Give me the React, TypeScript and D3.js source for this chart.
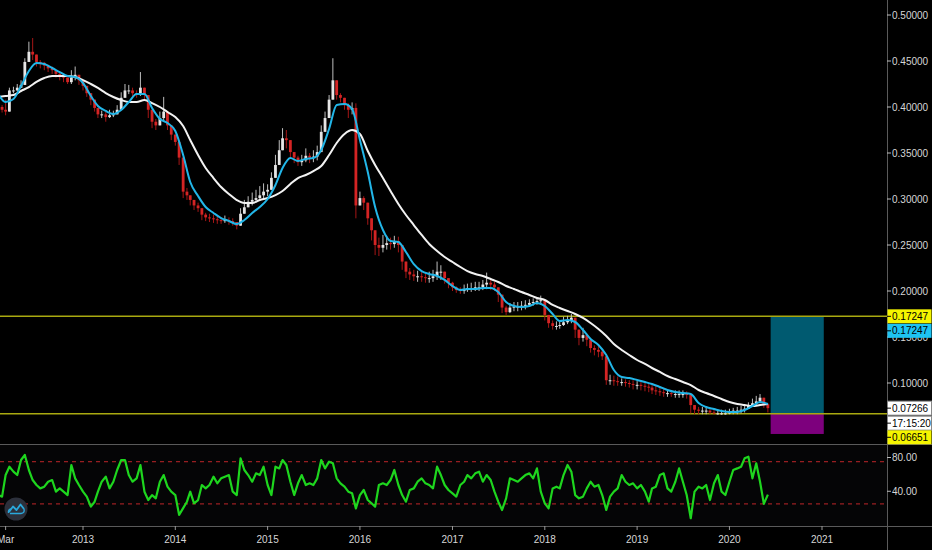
import React, { useEffect } from 'react';
import * as d3 from 'd3';

const W = 932;
const H = 550;

// semi-monthly candles (1st and 16th), Feb 2012 .. Jun 2020
const candleCloses = [
  0.400, 0.397, 0.395, 0.418, 0.418, 0.421, 0.424, 0.449, 0.460, 0.457,
  0.449, 0.448, 0.445, 0.442, 0.440, 0.436, 0.433, 0.432, 0.427, 0.432,
  0.435, 0.429, 0.423, 0.415, 0.408, 0.399, 0.392, 0.392, 0.389, 0.391,
  0.392, 0.397, 0.410, 0.418, 0.418, 0.415, 0.413, 0.421, 0.413, 0.397,
  0.384, 0.380, 0.388, 0.395, 0.380, 0.370, 0.362, 0.345, 0.308, 0.304,
  0.299, 0.293, 0.290, 0.283, 0.280, 0.279, 0.278, 0.277, 0.276, 0.277,
  0.276, 0.275, 0.271, 0.284, 0.291, 0.297, 0.299, 0.301, 0.304, 0.308,
  0.310, 0.323, 0.337, 0.353, 0.366, 0.364, 0.351, 0.345, 0.340, 0.342,
  0.347, 0.345, 0.346, 0.351, 0.373, 0.388, 0.408, 0.429, 0.413, 0.410,
  0.402, 0.397, 0.399, 0.293, 0.301, 0.296, 0.279, 0.266, 0.250, 0.247,
  0.250, 0.252, 0.251, 0.254, 0.250, 0.232, 0.221, 0.218, 0.216, 0.216,
  0.215, 0.214, 0.214, 0.216, 0.221, 0.221, 0.214, 0.209, 0.204, 0.201,
  0.200, 0.201, 0.203, 0.203, 0.204, 0.204, 0.207, 0.209, 0.207, 0.204,
  0.196, 0.182, 0.177, 0.182, 0.183, 0.183, 0.184, 0.185, 0.187, 0.188,
  0.189, 0.190, 0.174, 0.165, 0.162, 0.162, 0.163, 0.166, 0.168, 0.171,
  0.158, 0.149, 0.152, 0.147, 0.138, 0.136, 0.134, 0.129, 0.103, 0.103,
  0.102, 0.101, 0.101, 0.100, 0.099, 0.098, 0.098, 0.097, 0.096, 0.095,
  0.092, 0.091, 0.090, 0.089, 0.089, 0.088, 0.088, 0.088, 0.088, 0.087,
  0.076, 0.071, 0.070, 0.070, 0.070, 0.068, 0.067, 0.067, 0.067, 0.067,
  0.068, 0.070, 0.070, 0.071, 0.072, 0.075, 0.078, 0.080, 0.084, 0.077,
  0.07266,
];

const candleHighs = [
  0.408, 0.402, 0.408, 0.421, 0.422, 0.425, 0.429, 0.453, 0.471, 0.475,
  0.457, 0.451, 0.449, 0.446, 0.444, 0.440, 0.437, 0.435, 0.432, 0.440,
  0.444, 0.434, 0.427, 0.421, 0.413, 0.404, 0.397, 0.396, 0.395, 0.397,
  0.396, 0.402, 0.416, 0.425, 0.424, 0.421, 0.418, 0.438, 0.418, 0.403,
  0.390, 0.387, 0.395, 0.411, 0.386, 0.375, 0.368, 0.353, 0.337, 0.312,
  0.304, 0.299, 0.296, 0.288, 0.285, 0.284, 0.283, 0.282, 0.280, 0.282,
  0.280, 0.279, 0.275, 0.290, 0.299, 0.303, 0.307, 0.310, 0.314, 0.317,
  0.316, 0.329, 0.348, 0.364, 0.377, 0.375, 0.359, 0.351, 0.347, 0.348,
  0.355, 0.350, 0.353, 0.358, 0.380, 0.395, 0.413, 0.453, 0.424, 0.415,
  0.410, 0.404, 0.405, 0.404, 0.308, 0.303, 0.288, 0.277, 0.261, 0.258,
  0.261, 0.260, 0.258, 0.260, 0.259, 0.245, 0.228, 0.225, 0.223, 0.222,
  0.221, 0.220, 0.221, 0.223, 0.232, 0.228, 0.221, 0.214, 0.210, 0.205,
  0.204, 0.207, 0.208, 0.209, 0.210, 0.210, 0.212, 0.220, 0.212, 0.210,
  0.203, 0.190, 0.184, 0.187, 0.188, 0.188, 0.189, 0.190, 0.191, 0.192,
  0.193, 0.195, 0.185, 0.173, 0.168, 0.167, 0.168, 0.172, 0.173, 0.175,
  0.171, 0.158, 0.160, 0.154, 0.145, 0.141, 0.140, 0.137, 0.125, 0.109,
  0.108, 0.107, 0.105, 0.104, 0.103, 0.103, 0.102, 0.101, 0.101, 0.100,
  0.098, 0.097, 0.096, 0.095, 0.093, 0.092, 0.092, 0.092, 0.092, 0.091,
  0.088, 0.075, 0.074, 0.074, 0.074, 0.073, 0.072, 0.071, 0.071, 0.071,
  0.072, 0.073, 0.074, 0.075, 0.076, 0.079, 0.083, 0.086, 0.088, 0.082,
  0.078,
];

const candleLows = [
  0.395, 0.394, 0.391, 0.413, 0.415, 0.417, 0.421, 0.440, 0.453, 0.451,
  0.444, 0.442, 0.440, 0.438, 0.436, 0.432, 0.429, 0.427, 0.425, 0.425,
  0.429, 0.424, 0.418, 0.411, 0.402, 0.395, 0.388, 0.388, 0.384, 0.388,
  0.389, 0.392, 0.405, 0.414, 0.414, 0.411, 0.410, 0.412, 0.408, 0.388,
  0.377, 0.375, 0.384, 0.384, 0.375, 0.364, 0.358, 0.337, 0.301, 0.299,
  0.293, 0.288, 0.286, 0.277, 0.276, 0.275, 0.274, 0.273, 0.273, 0.274,
  0.272, 0.271, 0.267, 0.275, 0.286, 0.291, 0.293, 0.296, 0.299, 0.301,
  0.303, 0.316, 0.329, 0.345, 0.359, 0.355, 0.345, 0.339, 0.336, 0.336,
  0.340, 0.339, 0.340, 0.342, 0.364, 0.380, 0.395, 0.413, 0.408, 0.405,
  0.397, 0.388, 0.392, 0.279, 0.293, 0.288, 0.272, 0.255, 0.239, 0.238,
  0.242, 0.245, 0.245, 0.247, 0.242, 0.223, 0.214, 0.212, 0.211, 0.210,
  0.210, 0.209, 0.209, 0.210, 0.212, 0.212, 0.208, 0.203, 0.200, 0.198,
  0.197, 0.197, 0.199, 0.199, 0.200, 0.200, 0.201, 0.202, 0.201, 0.200,
  0.188, 0.176, 0.174, 0.176, 0.178, 0.178, 0.179, 0.180, 0.183, 0.184,
  0.185, 0.185, 0.168, 0.160, 0.158, 0.158, 0.159, 0.162, 0.164, 0.165,
  0.149, 0.141, 0.145, 0.140, 0.133, 0.130, 0.128, 0.125, 0.098, 0.098,
  0.097, 0.097, 0.097, 0.096, 0.095, 0.093, 0.093, 0.092, 0.091, 0.090,
  0.088, 0.087, 0.086, 0.085, 0.085, 0.085, 0.084, 0.084, 0.084, 0.083,
  0.067, 0.066, 0.066, 0.066, 0.066, 0.066, 0.066, 0.0655, 0.0655, 0.0655,
  0.066, 0.066, 0.066, 0.067, 0.068, 0.072, 0.074, 0.076, 0.078, 0.073,
  0.068,
];

// monthly moving averages (1st of month), Feb 2012 .. Jun 2020
const blueMA = [
  0.4141, 0.4054, 0.4087, 0.4228, 0.4391, 0.4478, 0.4467, 0.4424, 0.4380, 0.4337,
  0.4326, 0.4261, 0.4120, 0.4011, 0.3957, 0.3924, 0.3967, 0.4054, 0.4141, 0.4141,
  0.3989, 0.3870, 0.3826, 0.3739, 0.3478, 0.3185, 0.3033, 0.2913, 0.2848, 0.2793,
  0.2761, 0.2728, 0.2772, 0.2848, 0.2913, 0.3000, 0.3152, 0.3337, 0.3446, 0.3413,
  0.3435, 0.3446, 0.3533, 0.3761, 0.4022, 0.4033, 0.3978, 0.3641, 0.3293, 0.2913,
  0.2663, 0.2543, 0.2533, 0.2424, 0.2293, 0.2217, 0.2185, 0.2163, 0.2120, 0.2054,
  0.2011, 0.2022, 0.2022, 0.2033, 0.2033, 0.1989, 0.1880, 0.1837, 0.1826, 0.1837,
  0.1870, 0.1837, 0.1750, 0.1674, 0.1685, 0.1663, 0.1576, 0.1478, 0.1413, 0.1304,
  0.1141, 0.1065, 0.1054, 0.1033, 0.1011, 0.0989, 0.0957, 0.0924, 0.0902, 0.0891,
  0.0880, 0.0783, 0.0739, 0.0717, 0.0696, 0.0685, 0.0685, 0.0707, 0.0750, 0.0793,
  0.0772,
];

const whiteMA = [
  0.4109, 0.4120, 0.4130, 0.4174, 0.4217, 0.4272, 0.4315, 0.4337, 0.4337, 0.4337,
  0.4326, 0.4293, 0.4250, 0.4207, 0.4152, 0.4109, 0.4076, 0.4054, 0.4054, 0.4076,
  0.4043, 0.4000, 0.3946, 0.3891, 0.3793, 0.3641, 0.3478, 0.3337, 0.3228, 0.3130,
  0.3054, 0.2989, 0.2957, 0.2957, 0.2989, 0.3011, 0.3043, 0.3087, 0.3163, 0.3228,
  0.3261, 0.3304, 0.3359, 0.3478, 0.3609, 0.3707, 0.3750, 0.3707, 0.3522, 0.3370,
  0.3228, 0.3087, 0.2946, 0.2826, 0.2717, 0.2609, 0.2511, 0.2435, 0.2370, 0.2315,
  0.2261, 0.2217, 0.2185, 0.2163, 0.2130, 0.2098, 0.2054, 0.2022, 0.1989, 0.1957,
  0.1924, 0.1902, 0.1848, 0.1815, 0.1783, 0.1750, 0.1707, 0.1652, 0.1587, 0.1511,
  0.1424, 0.1359, 0.1304, 0.1250, 0.1207, 0.1163, 0.1120, 0.1076, 0.1043, 0.1011,
  0.0978, 0.0924, 0.0891, 0.0859, 0.0826, 0.0793, 0.0772, 0.0761, 0.0750, 0.0761,
  0.0772,
];

// RSI, semi-monthly, same dates as candles
const rsiValues = [
  35.5, 33.6, 59.2, 69.1, 63.2, 59.2, 77.0, 83.0, 65.2, 53.3,
  47.4, 43.4, 45.4, 51.3, 53.3, 39.5, 43.4, 39.5, 35.5, 71.1,
  55.3, 47.4, 39.5, 33.6, 21.7, 27.6, 39.5, 51.3, 57.3, 43.4,
  51.3, 65.2, 77.0, 77.0, 59.2, 51.3, 55.3, 71.1, 39.5, 29.6,
  35.5, 31.6, 51.3, 59.2, 45.4, 39.5, 35.5, 12.0, 20.0, 27.6,
  39.5, 25.7, 29.6, 47.4, 43.4, 47.4, 57.3, 49.4, 55.3, 57.3,
  59.2, 39.5, 35.5, 79.0, 65.2, 59.2, 51.3, 61.2, 59.2, 69.1,
  47.4, 35.5, 69.1, 67.1, 77.0, 71.1, 51.3, 35.5, 49.4, 59.2,
  47.4, 49.4, 47.4, 55.3, 77.0, 67.1, 75.1, 73.1, 55.3, 49.4,
  45.4, 39.5, 37.5, 19.7, 35.5, 41.5, 29.6, 25.7, 21.7, 47.4,
  49.4, 47.4, 53.3, 65.2, 47.4, 35.5, 27.6, 41.5, 43.4, 51.3,
  55.3, 49.4, 47.4, 43.4, 69.1, 59.2, 47.4, 41.5, 37.5, 33.6,
  47.4, 51.3, 59.2, 55.3, 61.2, 63.2, 51.3, 59.2, 53.3, 39.5,
  27.6, 17.8, 31.6, 55.3, 53.3, 51.3, 55.3, 59.2, 61.2, 55.3,
  67.1, 39.5, 25.7, 19.7, 43.4, 45.4, 43.4, 59.2, 71.1, 63.2,
  35.5, 31.6, 33.6, 43.4, 51.3, 45.4, 47.4, 35.5, 17.8, 33.6,
  39.5, 43.4, 59.2, 51.3, 47.4, 49.4, 43.4, 47.4, 39.5, 27.6,
  43.4, 45.4, 59.2, 61.2, 43.4, 39.5, 51.3, 67.1, 51.3, 35.5,
  8.0, 39.5, 45.4, 43.4, 47.4, 29.6, 49.4, 59.2, 39.5, 35.5,
  51.3, 65.2, 67.1, 69.1, 79.0, 81.0, 55.3, 73.1, 51.3, 25.0,
  36.0,
];

const priceTicks = [0.5, 0.45, 0.4, 0.35, 0.3, 0.25, 0.2, 0.15, 0.1];
const rsiTicks = [80, 40];
const rsiBands = [75, 25];
const yearTicks = [2013, 2014, 2015, 2016, 2017, 2018, 2019, 2020, 2021];
const firstMonthLabel = { label: 'Mar', date: new Date(2012, 2, 1) };

const targetPrice = 0.17247;
const entryPrice = 0.06651;
const stopPrice = 0.0446;
const lastPrice = 0.07266;
const countdownText = '17:15:20';
const positionStart = new Date(2020, 5, 12);
const positionEnd = new Date(2021, 0, 8);

const candleDates = candleCloses.map((_, k) => new Date(2012, 1 + Math.floor(k / 2), k % 2 ? 16 : 1));
const maDates = blueMA.map((_, j) => new Date(2012, 1 + j, 1));

const PLOT_R = 887;
const MAIN_B = 444;
const RSI_B = 526;
const FONT = '"Liberation Sans", Arial, sans-serif';
const FS = 10;

export default function App() {
  useEffect(() => {
    document.body.style.margin = '0';
    document.body.style.background = '#000';
  }, []);

  const x = d3.scaleTime().domain([new Date(2013, 0, 1), new Date(2021, 0, 1)]).range([83, 822]);
  const y = d3.scaleLinear().domain([0, 0.5]).range([475, 15]);
  const yr = d3.scaleLinear().domain([0, 96]).range([525, 444]);

  const candles = candleCloses.map((c, i) => {
    const o = i === 0 ? candleHighs[0] : candleCloses[i - 1];
    const h = Math.max(candleHighs[i], o, c);
    const l = Math.min(candleLows[i], o, c);
    return { d: candleDates[i], o, h, l, c };
  });

  const lineMA = d3.line<number>().x((_, j) => x(maDates[j])).y((v) => y(v)).curve(d3.curveMonotoneX);
  const lineRSI = d3.line<number>().x((_, i) => x(candleDates[i])).y((v) => yr(v));

  const labelBox = (cy: number, text: string, bg: string, fg: string, border?: string) => (
    <g key={text + cy}>
      <rect x={PLOT_R + 0.5} y={cy - 7} width={W - PLOT_R - 1} height={14} fill={bg} stroke={border || 'none'} strokeWidth={border ? 1 : 0} />
      <line x1={PLOT_R} x2={PLOT_R + 4} y1={cy} y2={cy} stroke={fg} strokeWidth={1} />
      <text x={892} y={cy} dominantBaseline="central" fill={fg} fontSize={FS} fontFamily={FONT}>{text}</text>
    </g>
  );

  const yTarget = y(targetPrice);
  const yEntry = y(entryPrice);
  const yLast = y(lastPrice);

  return (
    <svg width={W} height={H} style={{ position: 'absolute', left: 0, top: 0, background: '#000' }}>
      <defs>
        <clipPath id="mainClip"><rect x={0} y={0} width={PLOT_R} height={MAIN_B} /></clipPath>
        <clipPath id="rsiClip"><rect x={0} y={MAIN_B} width={PLOT_R} height={RSI_B - MAIN_B} /></clipPath>
      </defs>
      <rect x={0} y={0} width={W} height={H} fill="#000" />
      <rect x={0} y={MAIN_B} width={PLOT_R} height={RSI_B - MAIN_B} fill="#050506" />

      <g clipPath="url(#mainClip)">
        {/* position tool */}
        <rect x={x(positionStart)} y={y(targetPrice)} width={x(positionEnd) - x(positionStart)} height={y(entryPrice) - y(targetPrice)} fill="#005a70" />
        <rect x={x(positionStart)} y={y(entryPrice)} width={x(positionEnd) - x(positionStart)} height={y(stopPrice) - y(entryPrice)} fill="#7d007d" />
        {/* horizontal levels */}
        <line x1={0} x2={PLOT_R} y1={yTarget} y2={yTarget} stroke="#a9a910" strokeWidth={1.5} />
        <line x1={0} x2={PLOT_R} y1={yEntry} y2={yEntry} stroke="#a9a910" strokeWidth={1.5} />
        {/* candles */}
        {candles.map((k, i) => {
          const cx = x(k.d);
          const up = k.c >= k.o;
          const col = up ? '#e6e6e6' : '#d42424';
          const top = y(Math.max(k.o, k.c));
          const bot = y(Math.min(k.o, k.c));
          return (
            <g key={i}>
              <line x1={cx} x2={cx} y1={y(k.h)} y2={y(k.l)} stroke={up ? '#bdbdbd' : '#a51616'} strokeWidth={1} />
              <rect x={cx - 1.4} y={top} width={2.8} height={Math.max(1, bot - top)} fill={col} />
            </g>
          );
        })}
        <path d={lineMA(whiteMA) || ''} fill="none" stroke="#f2f2f2" strokeWidth={2} />
        <path d={lineMA(blueMA) || ''} fill="none" stroke="#22b6e8" strokeWidth={2} />
      </g>

      {/* RSI pane */}
      <g clipPath="url(#rsiClip)">
        {rsiBands.map((b) => (
          <line key={b} x1={0} x2={PLOT_R} y1={yr(b)} y2={yr(b)} stroke="#c0262a" strokeWidth={1} strokeDasharray="4 4" />
        ))}
        <path d={lineRSI(rsiValues) || ''} fill="none" stroke="#1ed61e" strokeWidth={2.2} strokeLinejoin="round" />
      </g>

      {/* logo */}
      <g>
        <circle cx={16} cy={509} r={11.5} fill="#2c303b" />
        <polyline points="9,512 13,506.5 16.5,510 20.5,504.5 24,509" fill="none" stroke="#2aa8dc" strokeWidth={1.8} strokeLinejoin="round" />
        <path d="M8.5,513 Q8,509.5 11,509 M24,509 Q25,513 21,513.5 L10,513.5" fill="none" stroke="#2aa8dc" strokeWidth={1.4} />
      </g>

      {/* pane separators and axes */}
      <line x1={0} x2={W} y1={MAIN_B + 0.5} y2={MAIN_B + 0.5} stroke="#5a5a5a" strokeWidth={1} />
      <line x1={0} x2={W} y1={RSI_B + 0.5} y2={RSI_B + 0.5} stroke="#5a5a5a" strokeWidth={1} />
      <line x1={PLOT_R + 0.5} x2={PLOT_R + 0.5} y1={0} y2={H} stroke="#5a5a5a" strokeWidth={1} />

      {/* price axis labels */}
      {priceTicks.map((p) => (
        <g key={p}>
          <line x1={PLOT_R} x2={PLOT_R + 4} y1={y(p)} y2={y(p)} stroke="#bbb" />
          <text x={892} y={y(p)} dominantBaseline="central" fill="#d6d6d6" fontSize={FS} fontFamily={FONT}>{p.toFixed(5)}</text>
        </g>
      ))}
      {/* rsi axis labels */}
      {rsiTicks.map((v) => (
        <g key={v}>
          <line x1={PLOT_R} x2={PLOT_R + 4} y1={yr(v)} y2={yr(v)} stroke="#bbb" />
          <text x={892} y={yr(v)} dominantBaseline="central" fill="#d6d6d6" fontSize={FS} fontFamily={FONT}>{v.toFixed(2)}</text>
        </g>
      ))}

      {/* price labels */}
      {labelBox(yTarget, targetPrice.toFixed(5), '#f5f500', '#000')}
      {labelBox(yTarget + 14.5, targetPrice.toFixed(5), '#1ec3f2', '#000')}
      {labelBox(yLast, lastPrice.toFixed(5), '#ffffff', '#000', '#888')}
      {labelBox(yLast + 15, countdownText, '#ffffff', '#000', '#888')}
      {labelBox(Math.min(yEntry + 23.5, MAIN_B - 6.5), entryPrice.toFixed(5), '#f5f500', '#000')}

      {/* time axis */}
      <g>
        <line x1={x(firstMonthLabel.date)} x2={x(firstMonthLabel.date)} y1={RSI_B} y2={RSI_B + 4} stroke="#999" />
        <text x={x(firstMonthLabel.date)} y={539} textAnchor="middle" dominantBaseline="central" fill="#d6d6d6" fontSize={FS} fontFamily={FONT}>{firstMonthLabel.label}</text>
        {yearTicks.map((yy) => {
          const tx = x(new Date(yy, 0, 1));
          return (
            <g key={yy}>
              <line x1={tx} x2={tx} y1={RSI_B} y2={RSI_B + 4} stroke="#999" />
              <text x={tx} y={539} textAnchor="middle" dominantBaseline="central" fill="#d6d6d6" fontSize={FS} fontFamily={FONT}>{yy}</text>
            </g>
          );
        })}
      </g>
    </svg>
  );
}
